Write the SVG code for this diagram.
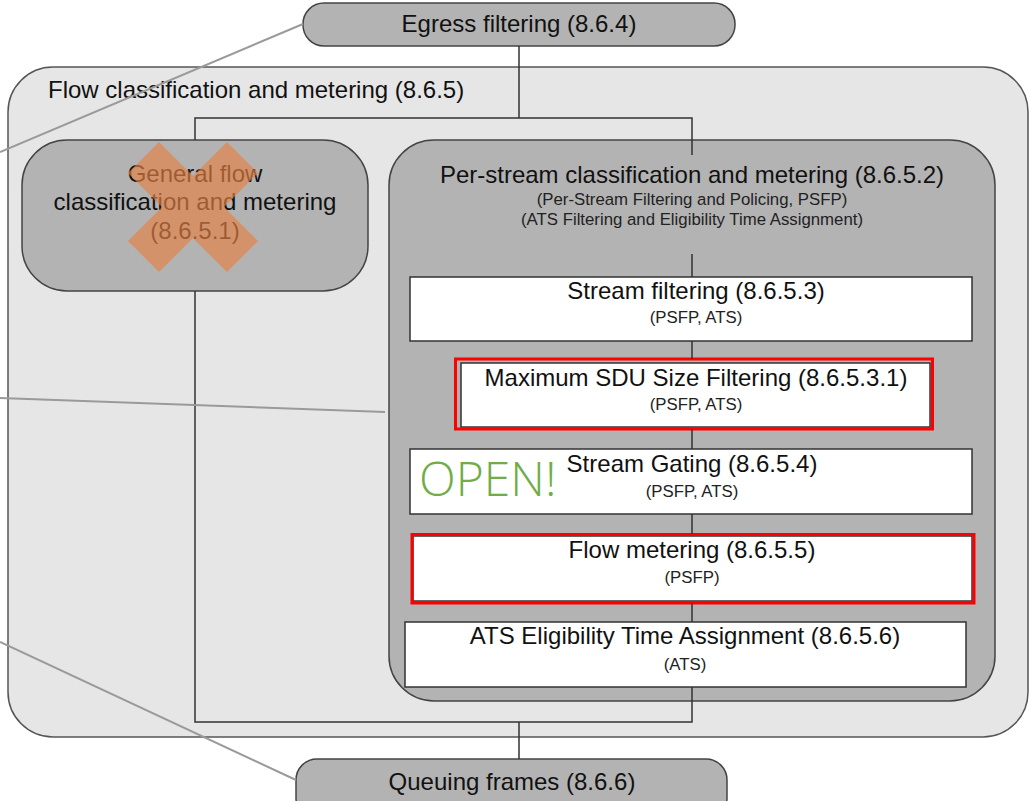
<svg xmlns="http://www.w3.org/2000/svg" width="1030" height="801" viewBox="0 0 1030 801">
<style>
text{font-family:"Liberation Sans",Arial,sans-serif;fill:#111;text-anchor:middle}
.t{font-size:24px}
.s{font-size:16.8px;fill:#222}
.pill{fill:#b3b3b3;stroke:#444;stroke-width:1.5}
.box{fill:#fff;stroke:#333;stroke-width:1.5}
.red{fill:none;stroke:#f00;stroke-width:3}
.con{stroke:#333;stroke-width:1.5;fill:none}
.call{stroke:#9a9a9a;stroke-width:2;fill:none}
</style>
<rect width="1030" height="801" fill="#fff"/>
<g id="flow-classification">
<rect x="8" y="67" width="1020" height="670" rx="45" fill="#e6e6e6" stroke="#555" stroke-width="1.5"/>
<text class="t" x="48" y="98" style="text-anchor:start">Flow classification and metering (8.6.5)</text>
</g>
<g id="egress">
<rect class="pill" x="303" y="3" width="432" height="43" rx="21"/>
<text class="t" x="519" y="32">Egress filtering (8.6.4)</text>
</g>
<g id="queuing">
<rect class="pill" x="296" y="759" width="431" height="60" rx="21"/>
<text class="t" x="512" y="790">Queuing frames (8.6.6)</text>
</g>
<g id="general-flow">
<rect class="pill" x="22" y="140" width="346" height="151" rx="45"/>
<text class="t" x="195" y="182">General flow</text>
<text class="t" x="195" y="210">classification and metering</text>
<text class="t" x="195" y="239">(8.6.5.1)</text>
<g opacity="0.66" fill="#e68246">
<rect x="123" y="185" width="140" height="44" transform="rotate(45 193 207)"/>
<rect x="123" y="185" width="140" height="44" transform="rotate(-45 193 207)"/>
</g>
</g>
<g id="per-stream">
<rect class="pill" x="389" y="140" width="606" height="561" rx="45"/>
<text class="t" x="692" y="183">Per-stream classification and metering (8.6.5.2)</text>
<text class="s" x="692" y="205">(Per-Stream Filtering and Policing, PSFP)</text>
<text class="s" x="692" y="225">(ATS Filtering and Eligibility Time Assignment)</text>
</g>
<g id="stream-filtering">
<rect class="box" x="410" y="277" width="562" height="64"/>
<text class="t" x="696" y="299">Stream filtering (8.6.5.3)</text>
<text class="s" x="696" y="323">(PSFP, ATS)</text>
</g>
<g id="max-sdu">
<rect class="box" x="461" y="363" width="469" height="64"/>
<rect class="red" x="455.5" y="359" width="477" height="70"/>
<text class="t" x="696" y="386">Maximum SDU Size Filtering (8.6.5.3.1)</text>
<text class="s" x="696" y="410">(PSFP, ATS)</text>
</g>
<g id="stream-gating">
<rect class="box" x="410" y="449" width="562" height="65"/>
<text class="t" x="692" y="472">Stream Gating (8.6.5.4)</text>
<text class="s" x="692" y="497">(PSFP, ATS)</text>
<text x="419" y="496" style="text-anchor:start;font-size:48px;fill:#70ad47;font-family:'Open Sans','Liberation Sans',sans-serif;font-weight:300">OPEN!</text>
</g>
<g id="flow-metering">
<rect class="box" x="413" y="536" width="559" height="65"/>
<rect class="red" x="412" y="534.5" width="562" height="68.5"/>
<text class="t" x="692" y="558">Flow metering (8.6.5.5)</text>
<text class="s" x="692" y="583">(PSFP)</text>
</g>
<g id="ats-eligibility">
<rect class="box" x="405" y="622" width="561" height="65"/>
<text class="t" x="685" y="644">ATS Eligibility Time Assignment (8.6.5.6)</text>
<text class="s" x="685" y="670">(ATS)</text>
</g>
<g id="connectors">
<path class="con" d="M519 46V118M195 140V118H692V155M692 254V277M692 341V359M692 429V449M692 514V534M692 603V622M692 687V722H195V291M519 722V759"/>
<path class="call" d="M303 24L0 152M0 398L385 412M0 642L296 780"/>
</g>
</svg>
